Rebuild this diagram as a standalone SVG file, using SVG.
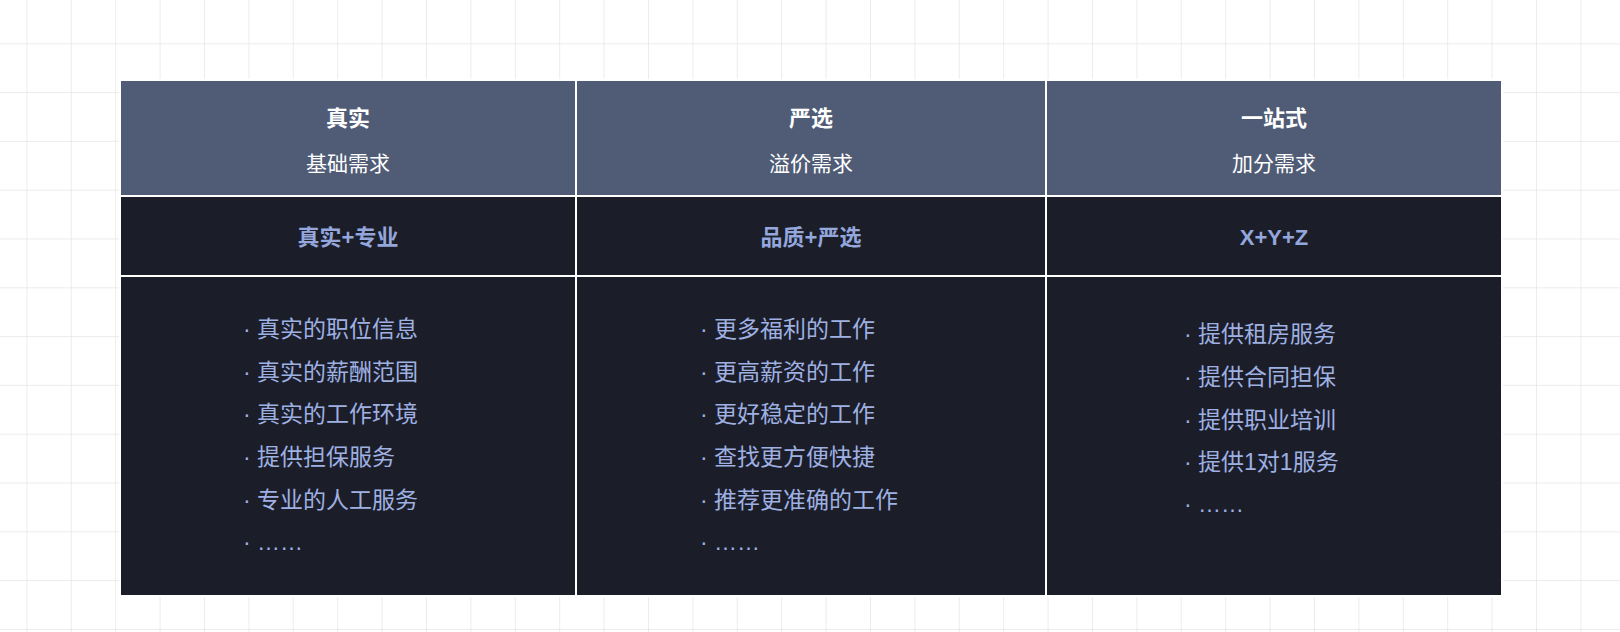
<svg xmlns="http://www.w3.org/2000/svg" width="1620" height="632" viewBox="0 0 1620 632">
<defs>
<pattern id="grid" x="26.4" y="43.3" width="44.4" height="48.8" patternUnits="userSpaceOnUse">
<path d="M0 0V48.8M0 0H44.4" fill="none" stroke="#e6e6e6" stroke-width="1.5"/>
</pattern>
<style>
.hd{fill:#505c75}.dk{fill:#1b1e29}
text{font-family:"Liberation Sans","Noto Sans CJK SC",sans-serif}
.t{fill:#fff;font-size:22px;font-weight:bold;text-anchor:middle}
.s{fill:#fff;font-size:21px;text-anchor:middle}
.k{fill:#94a6dc;font-size:22px;font-weight:bold;text-anchor:middle}
.l{fill:#9fb0e2;font-size:23px}
</style>
</defs>
<rect width="1620" height="632" fill="#fff"/>
<rect width="1620" height="632" fill="url(#grid)"/>
<rect x="119" y="79" width="1384" height="518" fill="#fff"/>
<g id="col1">
<rect class="hd" x="121" y="81" width="454" height="114"/>
<rect class="dk" x="121" y="197" width="454" height="78"/>
<rect class="dk" x="121" y="277" width="454" height="318"/>
<text class="t" x="348" y="126">真实</text>
<text class="s" x="348" y="171">基础需求</text>
<text class="k" x="348" y="245">真实+专业</text>
<g class="l">
<text x="243" y="337">· 真实的职位信息</text>
<text x="243" y="380">· 真实的薪酬范围</text>
<text x="243" y="422">· 真实的工作环境</text>
<text x="243" y="465">· 提供担保服务</text>
<text x="243" y="508">· 专业的人工服务</text>
<text x="243" y="550">·  ……</text>
</g>
</g>
<g id="col2">
<rect class="hd" x="577" y="81" width="468" height="114"/>
<rect class="dk" x="577" y="197" width="468" height="78"/>
<rect class="dk" x="577" y="277" width="468" height="318"/>
<text class="t" x="811" y="126">严选</text>
<text class="s" x="811" y="171">溢价需求</text>
<text class="k" x="811" y="245">品质+严选</text>
<g class="l">
<text x="700" y="337">· 更多福利的工作</text>
<text x="700" y="380">· 更高薪资的工作</text>
<text x="700" y="422">· 更好稳定的工作</text>
<text x="700" y="465">· 查找更方便快捷</text>
<text x="700" y="508">· 推荐更准确的工作</text>
<text x="700" y="550">·  ……</text>
</g>
</g>
<g id="col3">
<rect class="hd" x="1047" y="81" width="454" height="114"/>
<rect class="dk" x="1047" y="197" width="454" height="78"/>
<rect class="dk" x="1047" y="277" width="454" height="318"/>
<text class="t" x="1274" y="126">一站式</text>
<text class="s" x="1274" y="171">加分需求</text>
<text class="k" x="1274" y="245">X+Y+Z</text>
<g class="l">
<text x="1184" y="342">· 提供租房服务</text>
<text x="1184" y="385">· 提供合同担保</text>
<text x="1184" y="428">· 提供职业培训</text>
<text x="1184" y="470">· 提供1对1服务</text>
<text x="1184" y="512">·  ……</text>
</g>
</g>
<g id="connectors"/>
</svg>
